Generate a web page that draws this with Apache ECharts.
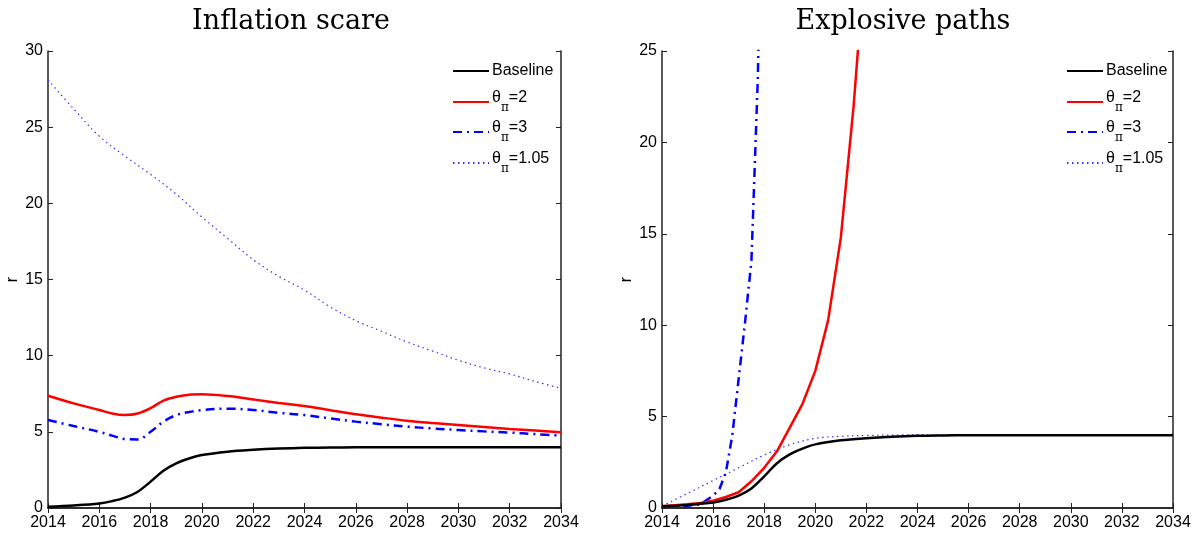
<!DOCTYPE html>
<html><head><meta charset="utf-8">
<script src="https://cdn.jsdelivr.net/npm/echarts@6/dist/echarts.min.js"></script>
<style>html,body{margin:0;padding:0;background:#fff}#c{width:1198px;height:535px}</style>
</head><body><div id="c"></div>
<script>
// ---- data ----
const legendLabels = ['Baseline', 'θπ=2', 'θπ=3', 'θπ=1.05'];
const xTicks = [2014, 2016, 2018, 2020, 2022, 2024, 2026, 2028, 2030, 2032, 2034];
const yearsA = [2014, 2015, 2016, 2016.5, 2017, 2017.5, 2018, 2018.5, 2019, 2019.5, 2020, 2021, 2022, 2023, 2024, 2025, 2026, 2027, 2028, 2029, 2030, 2031, 2032, 2033, 2034];
const baseline = [0.09, 0.17, 0.3, 0.45, 0.68, 1.07, 1.73, 2.45, 2.93, 3.25, 3.48, 3.7, 3.82, 3.9, 3.95, 3.97, 3.98, 3.98, 3.98, 3.98, 3.98, 3.98, 3.98, 3.98, 3.98];
const scareTheta2 = [7.37, 6.87, 6.43, 6.2, 6.1, 6.2, 6.55, 7.05, 7.3, 7.44, 7.46, 7.35, 7.13, 6.9, 6.7, 6.42, 6.15, 5.93, 5.73, 5.58, 5.45, 5.32, 5.19, 5.08, 4.97];
const scareTheta3 = [5.78, 5.38, 5.0, 4.75, 4.53, 4.5, 5.0, 5.67, 6.1, 6.3, 6.43, 6.52, 6.43, 6.25, 6.1, 5.88, 5.67, 5.5, 5.34, 5.22, 5.12, 5.03, 4.95, 4.85, 4.75];
const yearsInt = [2014, 2015, 2016, 2017, 2018, 2019, 2020, 2021, 2022, 2023, 2024, 2025, 2026, 2027, 2028, 2029, 2030, 2031, 2032, 2033, 2034];
const scareTheta105 = [28.1, 26.2, 24.4, 23.1, 21.9, 20.6, 19.1, 17.7, 16.3, 15.2, 14.3, 13.2, 12.3, 11.6, 10.9, 10.3, 9.7, 9.2, 8.8, 8.3, 7.86];
const explYears2 = [2014, 2015, 2015.5, 2016, 2016.5, 2017, 2017.5, 2018, 2018.5, 2019, 2019.5, 2020, 2020.5, 2021, 2021.25, 2021.5, 2021.75];
const explTheta2 = [0.1, 0.2, 0.28, 0.4, 0.6, 0.86, 1.46, 2.2, 3.1, 4.4, 5.7, 7.5, 10.25, 14.8, 18.4, 22.0, 26.5];
const explYears3 = [2014, 2015, 2015.5, 2016, 2016.25, 2016.5, 2016.75, 2017, 2017.25, 2017.5, 2017.75, 2018];
const explTheta3 = [0.1, 0.12, 0.2, 0.67, 1.04, 1.95, 3.96, 7.06, 10.16, 13.5, 23.5, 40];
const explTheta105 = [0.1, 0.8, 1.5, 2.2, 2.9, 3.46, 3.81, 3.92, 3.97, 3.99, 4.0, 4.0, 4.0, 4.0, 4.0, 4.0, 4.0, 4.0, 4.0, 4.0, 4.0];

const zip = (xs, ys) => xs.map((x, i) => [x, ys[i]]);
const SANS = 'Liberation Sans, Arial, sans-serif';
const lineCol = '#222';

function xAxes(gi) {
  return [
    { gridIndex: gi, type: 'value', min: 2014, max: 2034, interval: 2, position: 'bottom',
      axisLine: { lineStyle: { color: lineCol, width: 1.5 } },
      axisTick: { inside: true, length: 5, lineStyle: { color: lineCol } },
      axisLabel: { color: '#000', fontSize: 16, fontFamily: SANS, margin: 7, formatter: v => String(v) },
      splitLine: { show: false } },
    { gridIndex: gi, type: 'value', min: 2014, max: 2034, interval: 2, position: 'top',
      axisLine: { lineStyle: { color: lineCol, width: 1.5 } },
      axisTick: { inside: true, length: 5, lineStyle: { color: lineCol } },
      axisLabel: { show: false }, splitLine: { show: false } }
  ];
}
function yAxes(gi, max) {
  return [
    { gridIndex: gi, type: 'value', min: 0, max: max, interval: 5, position: 'left',
      name: 'r', nameLocation: 'middle', nameGap: 27, nameRotate: 90,
      nameTextStyle: { color: '#000', fontSize: 16, fontFamily: SANS },
      axisLine: { show: true, lineStyle: { color: lineCol, width: 1.5 } },
      axisTick: { show: true, inside: true, length: 5, lineStyle: { color: lineCol } },
      axisLabel: { color: '#000', fontSize: 16, fontFamily: SANS, margin: 5 },
      splitLine: { show: false } },
    { gridIndex: gi, type: 'value', min: 0, max: max, interval: 5, position: 'right',
      axisLine: { show: true, lineStyle: { color: lineCol, width: 1.5 } },
      axisTick: { show: true, inside: true, length: 5, lineStyle: { color: lineCol } },
      axisLabel: { show: false }, splitLine: { show: false } }
  ];
}

const styles = [
  { color: '#000000', width: 2.5, type: 'solid' },
  { color: '#ff0000', width: 2.5, type: 'solid' },
  { color: '#0000ff', width: 2.5, type: [9, 5, 2, 5] },
  { color: '#3333ff', width: 1.2, type: [1.5, 3.5] }
];
function mk(name, gi, data, k, smooth) {
  return { name: name, type: 'line', xAxisIndex: gi * 2, yAxisIndex: gi * 2, data: data,
    showSymbol: false, symbol: 'none', smooth: smooth, clip: true,
    lineStyle: Object.assign({}, styles[k]), itemStyle: { color: styles[k].color }, z: 10 - k };
}

const series = [
  mk('L0', 0, zip(yearsA, baseline), 0, 0.35),
  mk('L1', 0, zip(yearsA, scareTheta2), 1, 0.35),
  mk('L2', 0, zip(yearsA, scareTheta3), 2, 0.35),
  mk('L3', 0, zip(yearsInt, scareTheta105), 3, 0.35),
  mk('R0', 1, zip(yearsA, baseline), 0, 0.35),
  mk('R1', 1, zip(explYears2, explTheta2), 1, false),
  mk('R2', 1, zip(explYears3, explTheta3), 2, false),
  mk('R3', 1, zip(yearsInt, explTheta105), 3, 0.35)
];

function legendFmt(name) {
  const i = +name.slice(1);
  if (i === 0) return '{b|Baseline}';
  const val = legendLabels[i].slice(2);
  return '{h| }{m|θ}{s|π}{m|' + val + '}';
}
const rich = {
  b: { fontSize: 16, fontFamily: SANS, color: '#000', lineHeight: 16, verticalAlign: 'middle' },
  h: { fontSize: 1, lineHeight: 24, width: 0 },
  m: { fontSize: 16, fontFamily: SANS, color: '#000', lineHeight: 12, verticalAlign: 'top' },
  s: { fontSize: 12, fontFamily: 'DejaVu Serif, serif', color: '#000', lineHeight: 24, verticalAlign: 'bottom' }
};
const legendTops = [63, 90, 120, 151];
function legends(prefix, left) {
  return legendTops.map((t, i) => ({
    data: [prefix + i], left: left, top: t, orient: 'vertical', itemWidth: 36, itemHeight: 14,
    selectedMode: false, padding: 0, itemStyle: { opacity: 0 },
    formatter: legendFmt, textStyle: { rich: rich, padding: [0, 0, 0, -2] } }));
}

const chart = echarts.init(document.getElementById('c'), null, { renderer: 'canvas' });
chart.setOption({
  animation: false,
  backgroundColor: '#fff',
  title: [
    { text: 'Inflation scare', left: 286, top: 3, textAlign: 'center',
      textStyle: { fontFamily: 'DejaVu Serif, serif', fontSize: 27, fontWeight: 'normal', color: '#000' } },
    { text: 'Explosive paths', left: 898, top: 3, textAlign: 'center',
      textStyle: { fontFamily: 'DejaVu Serif, serif', fontSize: 27, fontWeight: 'normal', color: '#000' } }
  ],
  grid: [
    { left: 48, right: 637, top: 51, bottom: 27 },
    { left: 662, right: 25, top: 51, bottom: 27 }
  ],
  xAxis: xAxes(0).concat(xAxes(1)),
  yAxis: yAxes(0, 30).concat(yAxes(1, 25)),
  legend: legends('L', 452).concat(legends('R', 1066)),
  series: series
});
</script></body></html>
